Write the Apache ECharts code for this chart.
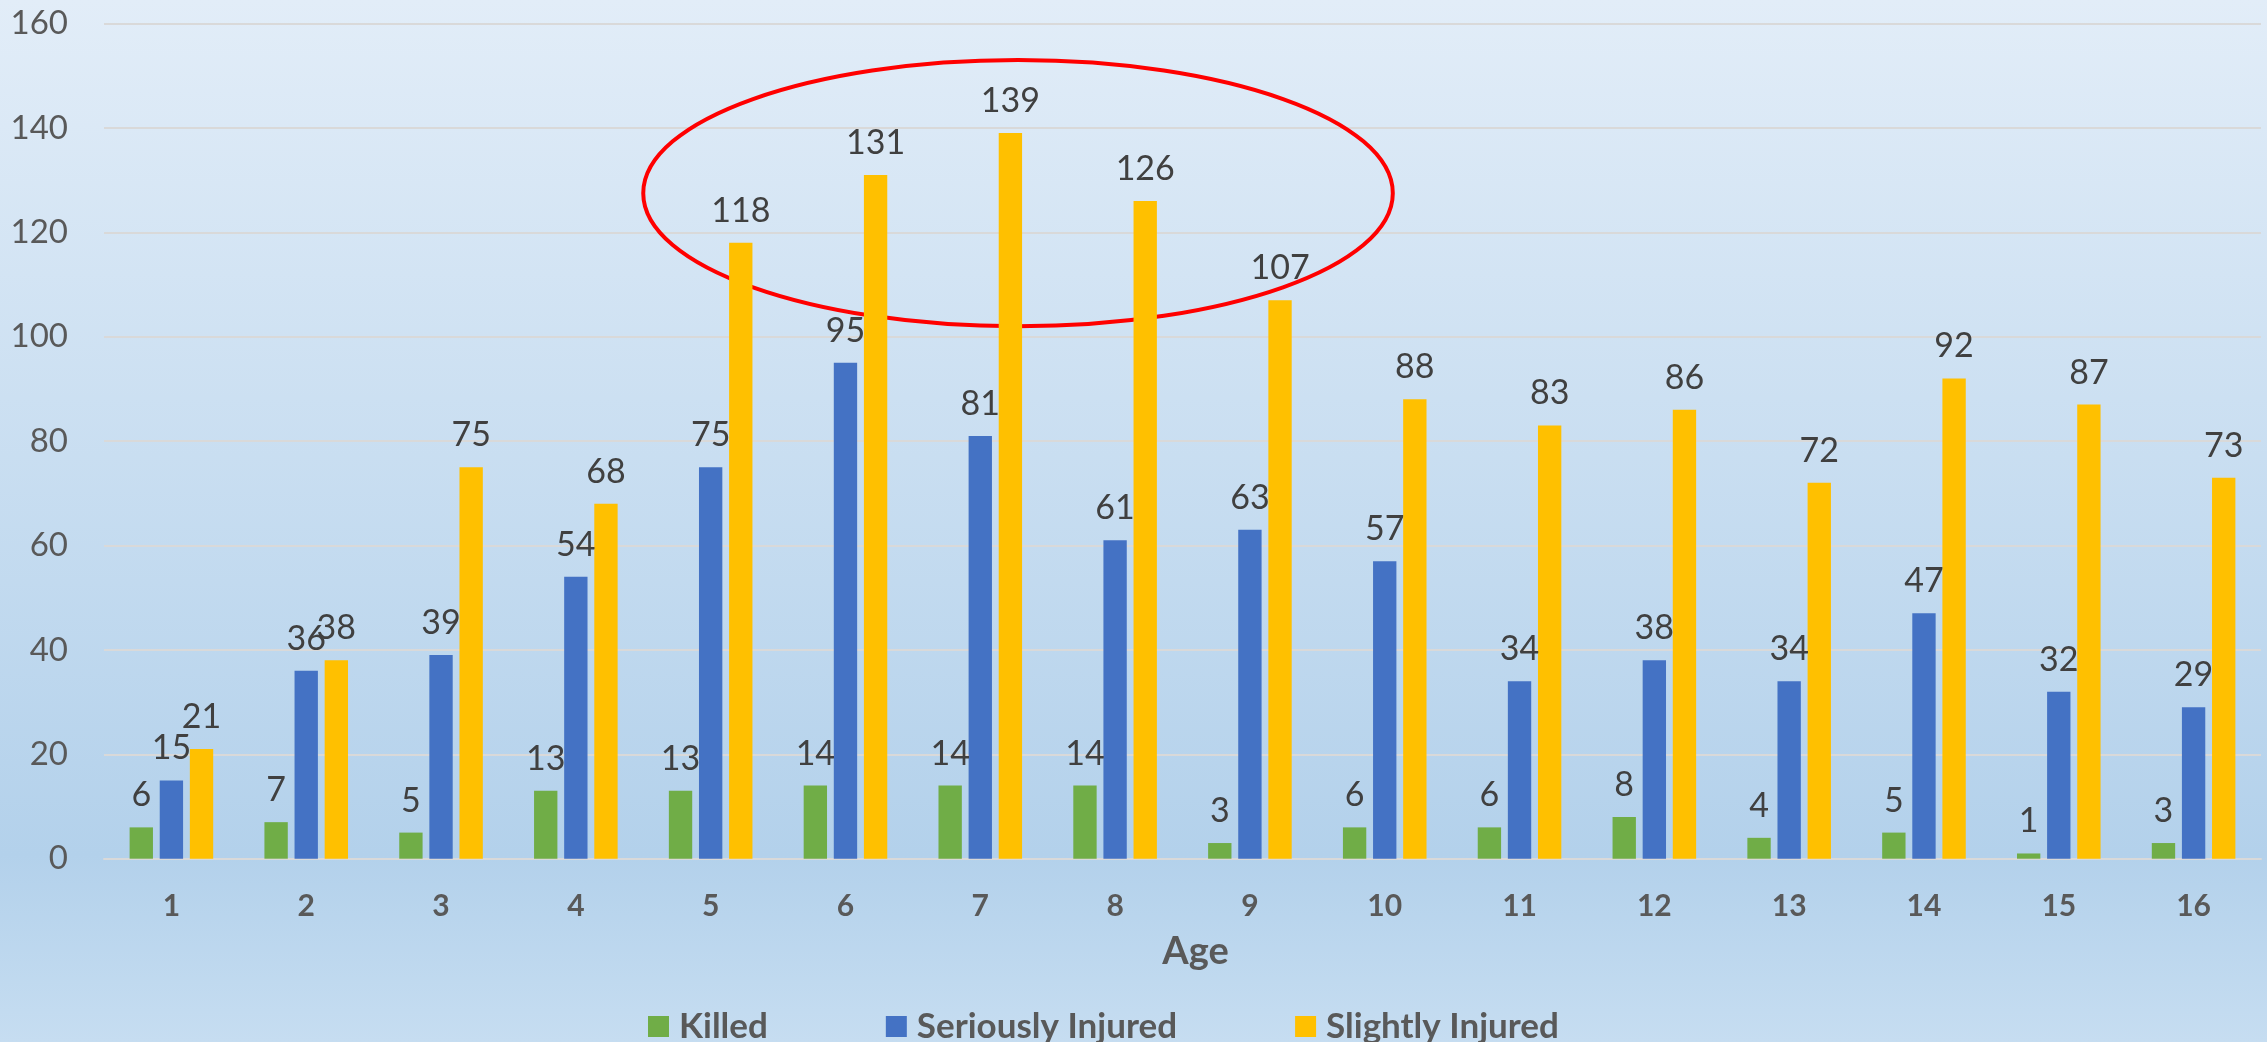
<!DOCTYPE html>
<html>
<head>
<meta charset="utf-8">
<script src="https://cdn.jsdelivr.net/npm/echarts@6/dist/echarts.min.js"></script>
<style>
html,body{margin:0;padding:0;}
#main{width:2267px;height:1042px;}
</style>
</head>
<body>
<div id="main"></div>
<script>
const categories = ['1','2','3','4','5','6','7','8','9','10','11','12','13','14','15','16'];
const killed = [6,7,5,13,13,14,14,14,3,6,6,8,4,5,1,3];
const seriouslyInjured = [15,36,39,54,75,95,81,61,63,57,34,38,34,47,32,29];
const slightlyInjured = [21,38,75,68,118,131,139,126,107,88,83,86,72,92,87,73];
const seriesNames = ['Killed','Seriously Injured','Slightly Injured'];
const colors = ['#70AD47','#4472C4','#FFC000'];

const FONT = 'Lato';
const chart = echarts.init(document.getElementById('main'));

function barSeries(name, data, color){
  return {
    name: name, type: 'bar', data: data,
    itemStyle: {color: color},
    barGap: '29%', barCategoryGap: '38%',
    label: {show: true, position: 'top', distance: 15, color: '#404040',
            fontFamily: FONT, fontSize: 34},
    emphasis: {disabled: true}
  };
}

chart.setOption({
  animation: false,
  backgroundColor: new echarts.graphic.LinearGradient(0,0,0,1,[
    {offset:0, color:'#e2edf8'},
    {offset:0.82, color:'#b3d1eb'},
    {offset:1, color:'#c6ddf1'}
  ]),
  textStyle: {fontFamily: FONT},
  grid: {left: 104, right: 6, top: 23.5, bottom: 183.3, containLabel: false},
  legend: {
    data: seriesNames, left: 643, top: 1004,
    itemWidth: 21, itemHeight: 21, itemGap: 118, icon: 'rect',
    textStyle: {fontFamily: FONT, fontSize: 35, fontWeight: 'bold', color: '#595959', padding: [0,0,0,5]}
  },
  xAxis: {
    type: 'category', data: categories,
    axisLine: {lineStyle: {color: '#d9d9d9', width: 2}},
    axisTick: {show: false},
    axisLabel: {color: '#595959', fontFamily: FONT, fontSize: 30, fontWeight: 'bold', margin: 33},
    name: 'Age', nameLocation: 'middle', nameGap: 74,
    nameTextStyle: {color: '#595959', fontFamily: FONT, fontSize: 38, fontWeight: 'bold', padding: [0,0,0,26]}
  },
  yAxis: {
    type: 'value', min: 0, max: 160, interval: 20,
    axisLine: {show: false}, axisTick: {show: false},
    axisLabel: {color: '#595959', fontFamily: FONT, fontSize: 33, margin: 36},
    splitLine: {lineStyle: {color: '#d9d9d9', width: 2}}
  },
  series: [
    barSeries(seriesNames[0], killed, colors[0]),
    barSeries(seriesNames[1], seriouslyInjured, colors[1]),
    barSeries(seriesNames[2], slightlyInjured, colors[2])
  ]
});

// Red annotation ellipse around the peak "Slightly Injured" bars (categories 5–9)
const pLeft = chart.convertToPixel({xAxisIndex:0}, '5');
const pRight = chart.convertToPixel({xAxisIndex:0}, '10');
const band = chart.convertToPixel({xAxisIndex:0}, '2') - chart.convertToPixel({xAxisIndex:0}, '1');
const yTop = chart.convertToPixel({yAxisIndex:0}, 153);
const yBot = chart.convertToPixel({yAxisIndex:0}, 102);
const x1 = pLeft - band/2, x2 = pRight + band*0.06;
chart.setOption({
  graphic: [{
    type: 'ellipse', silent: true,
    shape: {cx: (x1+x2)/2, cy: (yTop+yBot)/2, rx: (x2-x1)/2, ry: (yBot-yTop)/2},
    style: {fill: 'none', stroke: '#ff0000', lineWidth: 4}
  }]
});
</script>
</body>
</html>
